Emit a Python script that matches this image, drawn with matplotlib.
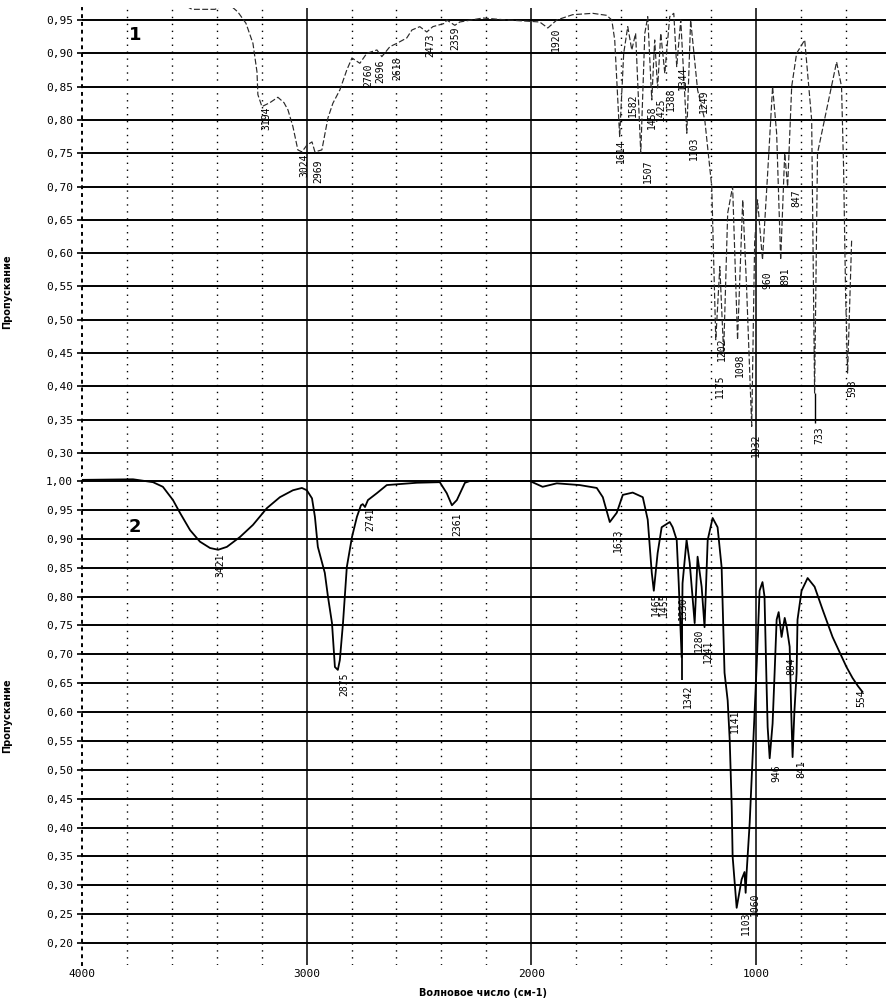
import matplotlib
matplotlib.use("Agg")
import matplotlib.pyplot as plt
from matplotlib.ticker import FuncFormatter

plt.rcParams["font.family"] = ["DejaVu Sans Mono", "DejaVu Sans"]

# spectrum 1 (upper panel), wavenumber cm-1 / transmittance
wn1 = [4000, 3697, 3560, 3510, 3408, 3350, 3306, 3270, 3239, 3221, 3217, 3199, 3163, 3128, 3101, 3083,
       3061, 3039, 3021, 2999, 2976, 2963, 2932, 2905, 2883, 2852, 2821, 2798, 2763, 2732,
       2687, 2665, 2629, 2598, 2554, 2531, 2496, 2465, 2438, 2385, 2376, 2340, 2318, 2215,
       2109, 2006, 1962, 1926, 1886, 1815, 1726, 1664, 1641, 1628, 1606, 1588, 1570, 1552,
       1535, 1512, 1494, 1481, 1463, 1450, 1437, 1423, 1405, 1383, 1365, 1352, 1334, 1307,
       1290, 1259, 1227, 1196, 1178, 1160, 1143, 1125, 1103, 1081, 1058, 1041, 1018, 1005,
       992, 970, 947, 925, 907, 889, 871, 858, 840, 818, 782, 751, 738, 725, 694, 640, 618,
       609, 600, 591, 573]
t1 = [0.985, 0.98, 0.975, 0.966, 0.966, 0.975, 0.962, 0.945, 0.915, 0.872, 0.838, 0.82, 0.826, 0.834, 0.826, 0.815,
      0.79, 0.755, 0.752, 0.762, 0.767, 0.752, 0.755, 0.803, 0.825, 0.845, 0.875, 0.893, 0.885, 0.90,
      0.905, 0.895, 0.91, 0.915, 0.923, 0.935, 0.94, 0.932, 0.94, 0.945, 0.95, 0.942, 0.947, 0.953,
      0.95, 0.948, 0.947, 0.938, 0.95, 0.958, 0.96, 0.957, 0.95, 0.92, 0.775, 0.90, 0.94, 0.905,
      0.93, 0.75, 0.93, 0.955, 0.83, 0.92, 0.848, 0.93, 0.87, 0.955, 0.96, 0.88, 0.95, 0.78,
      0.95, 0.845, 0.80, 0.70, 0.47, 0.58, 0.45, 0.66, 0.70, 0.47, 0.68, 0.55, 0.34, 0.615,
      0.68, 0.59, 0.72, 0.85, 0.78, 0.59, 0.75, 0.70, 0.85, 0.90, 0.92, 0.80, 0.39, 0.75, 0.80, 0.887, 0.85,
      0.73, 0.54, 0.42, 0.62]

# spectrum 2 (lower panel)
wn2 = [4000, 3773, 3684, 3640, 3595, 3564, 3519, 3475, 3430, 3394, 3355, 3297, 3239, 3177,
       3119, 3061, 3021, 2999, 2976, 2963, 2950, 2919, 2905, 2887, 2874, 2861, 2852, 2838,
       2821, 2798, 2776, 2758, 2750, 2740, 2727, 2687, 2643, 2509, 2407, 2376, 2353, 2331,
       2295, 2273, 2006, 1949, 1886, 1784, 1708, 1681, 1650, 1619, 1592, 1548, 1503, 1481,
       1463, 1454, 1437, 1419, 1383, 1370, 1352, 1343, 1330, 1326, 1308, 1294, 1272, 1259,
       1241, 1228, 1214, 1192, 1170, 1152, 1139, 1125, 1116, 1107, 1103, 1085, 1063, 1050,
       1045, 1041, 1027, 1014, 996, 983, 970, 961, 952, 947, 938, 925, 916, 907, 898, 885,
       871, 862, 849, 842, 836, 828, 818, 814, 796, 769, 738, 702, 658, 596, 569, 545, 525]
t2 = [1.002, 1.003, 0.998, 0.99, 0.967, 0.945, 0.915, 0.895, 0.884, 0.881, 0.886, 0.903, 0.924, 0.953,
      0.972, 0.984, 0.988, 0.984, 0.97, 0.938, 0.886, 0.841, 0.80, 0.754, 0.678, 0.673, 0.69, 0.754,
      0.851, 0.903, 0.938, 0.958, 0.96, 0.955, 0.967, 0.979, 0.993, 0.997, 0.998, 0.979, 0.958, 0.967,
      0.997, 1.0, 1.0, 0.99, 0.996, 0.993, 0.988, 0.972, 0.929, 0.945, 0.976, 0.98, 0.972, 0.933,
      0.841, 0.81, 0.875, 0.92, 0.929, 0.92, 0.898, 0.823, 0.695, 0.823, 0.898, 0.858, 0.754, 0.869,
      0.817, 0.747, 0.898, 0.936, 0.92, 0.851, 0.668, 0.62, 0.552, 0.436, 0.35, 0.261, 0.31, 0.323,
      0.287, 0.32, 0.408, 0.522, 0.68, 0.81, 0.825, 0.80, 0.65, 0.574, 0.52, 0.58, 0.668, 0.76, 0.773, 0.73,
      0.763, 0.747, 0.713, 0.60, 0.522, 0.60, 0.668, 0.76, 0.81, 0.832, 0.817, 0.777, 0.73, 0.678, 0.659, 0.645, 0.635]

# peak labels: text, wavenumber where printed, transmittance of label top
pk1_txt = ["3194", "3024", "2969", "2760", "2696", "2618", "2473", "2359", "1920", "1614",
           "1582", "1507", "1458", "1425", "1388", "1344", "1249", "1103", "1202", "1175",
           "1098", "1032", "960", "891", "847", "733", "593"]
pk1_wn = [3181, 3008, 2950, 2727, 2674, 2598, 2451, 2340, 1891, 1601,
          1548, 1481, 1464, 1422, 1380, 1325, 1232, 1276, 1152, 1161,
          1072, 1000, 947, 867, 818, 716, 569]
pk1_t = [0.82, 0.75, 0.74, 0.885, 0.89, 0.895, 0.93, 0.94, 0.938, 0.77,
         0.84, 0.74, 0.822, 0.834, 0.848, 0.88, 0.845, 0.775, 0.474, 0.418,
         0.45, 0.33, 0.572, 0.578, 0.695, 0.34, 0.41]

pk2_txt = ["3421", "2875", "2741", "2361", "1633", "1465", "1455", "1330", "1342", "1280",
           "1241", "1141", "1103", "1060", "946", "884", "841", "554"]
pk2_wn = [3386, 2830, 2718, 2327, 1615, 1446, 1410, 1325, 1303, 1252,
          1214, 1094, 1045, 1005, 907, 840, 796, 529]
pk2_t = [0.875, 0.668, 0.955, 0.946, 0.918, 0.807, 0.807, 0.80, 0.647, 0.745,
         0.725, 0.604, 0.254, 0.287, 0.51, 0.695, 0.517, 0.64]

grid_x = list(range(3800, 400, -200))
fmt = FuncFormatter(lambda v, p: f"{v:.2f}".replace(".", ","))

fig = plt.figure(figsize=(8.86, 10), dpi=100)
ax1 = fig.add_axes([0.0926, 0.524, 0.9074, 0.468])
ax2 = fig.add_axes([0.0926, 0.035, 0.9074, 0.489])


def style(ax, lo, hi, yticks):
    ax.set_xlim(4000, 420)
    ax.set_ylim(lo, hi)
    for s in ["top", "right", "bottom"]:
        ax.spines[s].set_visible(False)
    ax.spines["left"].set_linestyle((0, (1, 3)))
    ax.spines["left"].set_linewidth(1.4)
    ax.set_yticks(yticks)
    ax.yaxis.set_major_formatter(fmt)
    for y in yticks:
        ax.axhline(y, color="black", lw=1.4, zorder=1)
    for x in grid_x:
        if x % 1000 == 0:
            ax.axvline(x, color="black", lw=1.1, zorder=1)
        else:
            ax.axvline(x, color="black", lw=1.0, ls=(0, (1, 4)), zorder=1)
    ax.set_xticks([4000, 3000, 2000, 1000])
    ax.tick_params(axis="y", length=3.6, width=1.2, pad=3, labelsize=8)
    ax.tick_params(axis="x", length=0, pad=3, labelsize=8)
    ax.set_ylabel("Пропускание", family="DejaVu Sans", fontweight="bold", fontsize=7)


style(ax1, 0.2655, 0.968, [0.30 + 0.05 * i for i in range(14)])
style(ax2, 0.162, 1.0087, [0.20 + 0.05 * i for i in range(17)])
ax1.set_xticklabels([])
ax1.yaxis.set_label_coords(-0.087, 0.393)
ax2.yaxis.set_label_coords(-0.087, 0.51)

ax1.plot(wn1, t1, color="#2a2a2a", lw=0.85, ls=(0, (5, 2)), zorder=3)
ax2.plot(wn2, t2, color="black", lw=1.3, zorder=3)

for txt, x, y in zip(pk1_txt, pk1_wn, pk1_t):
    ax1.text(x, y, txt, rotation=90, ha="center", va="top", fontsize=7, zorder=4)
for txt, x, y in zip(pk2_txt, pk2_wn, pk2_t):
    ax2.text(x, y, txt, rotation=90, ha="center", va="top", fontsize=7, zorder=4)
ax1.vlines(738, 0.345, 0.39, color="black", lw=1.0)
ax2.vlines(1330, 0.656, 0.75, color="black", lw=1.3)

ax1.text(3764, 0.927, "1", family="DejaVu Sans", fontweight="bold", fontsize=13, ha="center", va="center")
ax2.text(3764, 0.92, "2", family="DejaVu Sans", fontweight="bold", fontsize=13, ha="center", va="center")

ax2.set_xlabel("Волновое число (см-1)", family="DejaVu Sans", fontweight="bold", fontsize=7, va="center")
ax2.xaxis.set_label_coords(0.499, -0.057)

fig.savefig("out.png", dpi=100)
